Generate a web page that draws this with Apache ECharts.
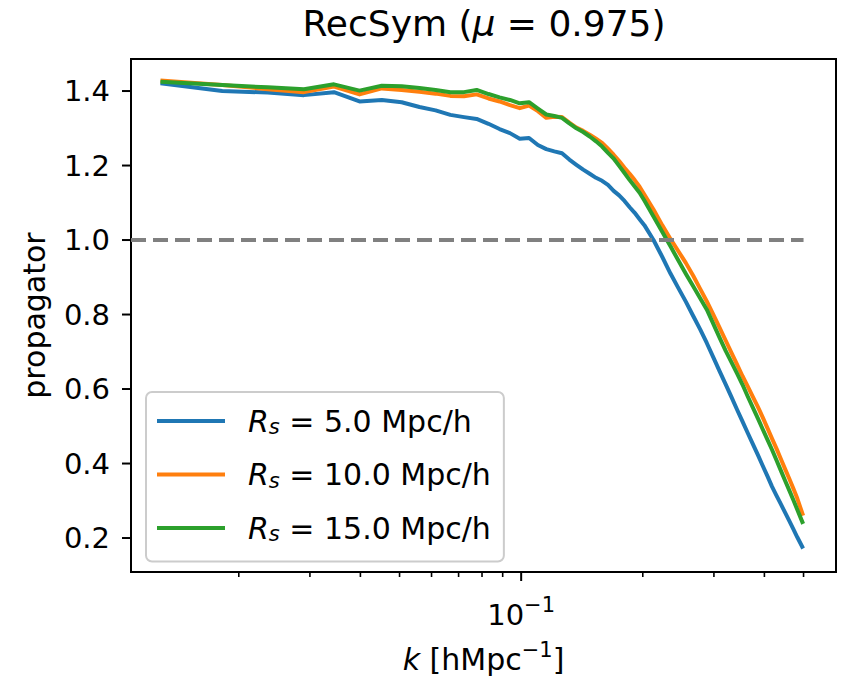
<!DOCTYPE html>
<html>
<head>
<meta charset="utf-8">
<script src="https://cdn.jsdelivr.net/npm/echarts@6/dist/echarts.min.js"></script>
<style>
html,body{margin:0;padding:0;background:#fff;}
#chart{width:843px;height:682px;}
</style>
</head>
<body>
<div id="chart"></div>
<script>
// ---- data ----
const kValues = [0.0128, 0.0182, 0.0236, 0.029, 0.0344, 0.0398, 0.0452, 0.0506, 0.056, 0.0614,
  0.0668, 0.0722, 0.0776, 0.083, 0.0884, 0.0938, 0.0992, 0.1046, 0.11, 0.1154,
  0.1208, 0.1262, 0.1316, 0.137, 0.1424, 0.1478, 0.1532, 0.1586, 0.164, 0.1694,
  0.1748, 0.1802, 0.1856, 0.191, 0.1964, 0.2018, 0.2126, 0.2234, 0.2342, 0.245,
  0.2558, 0.2666, 0.2774, 0.2882, 0.299, 0.3098, 0.3206, 0.3314, 0.3422, 0.353,
  0.3638, 0.3746, 0.3854, 0.3962, 0.407, 0.4178, 0.4286, 0.4394, 0.4502, 0.461,
  0.4718, 0.4826, 0.4988];
const propRs5 = [1.421, 1.400, 1.396, 1.389, 1.397, 1.372, 1.376, 1.370, 1.357, 1.348,
  1.336, 1.330, 1.325, 1.312, 1.298, 1.287, 1.272, 1.274, 1.255, 1.244,
  1.238, 1.233, 1.216, 1.202, 1.189, 1.178, 1.167, 1.159, 1.148, 1.132,
  1.120, 1.105, 1.088, 1.073, 1.056, 1.040, 1.000, 0.955, 0.910, 0.871,
  0.834, 0.796, 0.760, 0.723, 0.685, 0.648, 0.613, 0.579, 0.545, 0.513,
  0.482, 0.452, 0.423, 0.394, 0.366, 0.338, 0.314, 0.291, 0.268, 0.246,
  0.224, 0.202, 0.172];
const propRs10 = [1.428, 1.416, 1.405, 1.397, 1.412, 1.391, 1.407, 1.403, 1.398, 1.393,
  1.387, 1.386, 1.391, 1.380, 1.372, 1.362, 1.354, 1.361, 1.346, 1.328,
  1.331, 1.330, 1.315, 1.302, 1.293, 1.283, 1.272, 1.261, 1.245, 1.229,
  1.212, 1.194, 1.178, 1.161, 1.143, 1.122, 1.082, 1.040, 1.003, 0.970,
  0.938, 0.904, 0.869, 0.835, 0.800, 0.765, 0.731, 0.698, 0.666, 0.635,
  0.607, 0.579, 0.552, 0.524, 0.495, 0.467, 0.440, 0.412, 0.385, 0.359,
  0.333, 0.306, 0.260];
const propRs15 = [1.425, 1.416, 1.410, 1.405, 1.418, 1.401, 1.414, 1.413, 1.408, 1.403,
  1.397, 1.397, 1.403, 1.392, 1.383, 1.376, 1.367, 1.370, 1.353, 1.337,
  1.333, 1.328, 1.313, 1.300, 1.290, 1.278, 1.265, 1.251, 1.234, 1.219,
  1.199, 1.180, 1.161, 1.144, 1.127, 1.106, 1.063, 1.022, 0.983, 0.945,
  0.909, 0.876, 0.844, 0.813, 0.775, 0.738, 0.703, 0.672, 0.642, 0.612,
  0.580, 0.550, 0.521, 0.492, 0.464, 0.437, 0.409, 0.381, 0.354, 0.328,
  0.302, 0.276, 0.238];
const seriesNames = ['Rs = 5.0 Mpc/h', 'Rs = 10.0 Mpc/h', 'Rs = 15.0 Mpc/h'];
const legendRs = ['5.0', '10.0', '15.0'];
const refK = [0.01082, 0.5];
const refV = [1.0, 1.0];
const yTicks = [0.2, 0.4, 0.6, 0.8, 1.0, 1.2, 1.4];
const yTickLabels = ['0.2', '0.4', '0.6', '0.8', '1.0', '1.2', '1.4'];
const xMajorTicks = [0.1];
const xMinorTicks = [0.02, 0.03, 0.04, 0.05, 0.06, 0.07, 0.08, 0.09, 0.2, 0.3, 0.4, 0.5];
const xLimits = [0.01082, 0.6016];
const yLimits = [0.1088, 1.486];

// ---- chart ----
const FONT = 'DejaVu Sans';
const colors = ['#1f77b4', '#ff7f0e', '#2ca02c'];
const pairs = (xs, ys) => xs.map((x, i) => [x, ys[i]]);
const chart = echarts.init(document.getElementById('chart'), null, {renderer: 'svg'});

const tickRich = {
  t: {fontSize: 29, fontFamily: FONT, color: '#000'},
  sup: {fontSize: 21, fontFamily: FONT, color: '#000', padding: [0, 0, 20, 0]}
};
const nameRich = {
  t: {fontSize: 30, fontFamily: FONT, color: '#000'},
  i: {fontSize: 30, fontFamily: FONT, fontStyle: 'italic', color: '#000'},
  sup: {fontSize: 21, fontFamily: FONT, color: '#000', padding: [0, 0, 20, 0]}
};

const option = {
  animation: false,
  backgroundColor: '#fff',
  title: {
    text: '{a|RecSym (}{b|μ}{a| = 0.975)}',
    left: 484, textAlign: 'center', top: 5, padding: 0,
    textStyle: {
      fontWeight: 'normal',
      rich: {
        a: {fontSize: 36, fontFamily: FONT, fontWeight: 'normal', color: '#000'},
        b: {fontSize: 36, fontFamily: FONT, fontWeight: 'normal', fontStyle: 'italic', color: '#000'}
      }
    }
  },
  grid: {left: 131, top: 59, width: 705, height: 513, show: true, borderColor: '#000', borderWidth: 2, backgroundColor: 'transparent'},
  legend: {
    data: seriesNames,
    orient: 'vertical', left: 146, top: 392,
    padding: [14, 13, 17, 11], itemGap: 22, itemWidth: 68, itemHeight: 4,
    icon: 'rect', selectedMode: false,
    backgroundColor: 'rgba(255,255,255,0.8)', borderColor: '#cccccc', borderWidth: 2, borderRadius: 6,
    formatter: name => '{sp|}{i|R}{s|s}{t| = ' + legendRs[seriesNames.indexOf(name)] + ' Mpc/h}',
    textStyle: {
      fontSize: 30, fontFamily: FONT, color: '#000',
      rich: {
        sp: {width: 18},
        i: {fontSize: 30, fontFamily: FONT, fontStyle: 'italic', color: '#000'},
        s: {fontSize: 21, fontFamily: FONT, fontStyle: 'italic', color: '#000', padding: [12, 0, 0, 0]},
        t: {fontSize: 30, fontFamily: FONT, color: '#000'}
      }
    }
  },
  xAxis: {
    type: 'log', logBase: 10, min: xLimits[0], max: xLimits[1],
    axisLine: {show: false}, axisTick: {show: false}, axisLabel: {show: false}, splitLine: {show: false},
    name: '{i|k}{t| [hMpc}{sup|−1}{t|]}', nameLocation: 'middle', nameGap: 67,
    nameTextStyle: {rich: nameRich}
  },
  yAxis: {
    type: 'value', min: yLimits[0], max: yLimits[1],
    axisLine: {show: false}, axisTick: {show: false}, axisLabel: {show: false}, splitLine: {show: false},
    name: 'propagator', nameLocation: 'middle', nameGap: 82, nameRotate: 90,
    nameTextStyle: {fontSize: 30, fontFamily: FONT, color: '#000'}
  },
  series: [
    {name: seriesNames[0], type: 'line', data: pairs(kValues, propRs5), showSymbol: false, symbol: 'none',
     lineStyle: {color: colors[0], width: 4, join: 'round'}, itemStyle: {color: colors[0]}, z: 3},
    {name: seriesNames[1], type: 'line', data: pairs(kValues, propRs10), showSymbol: false, symbol: 'none',
     lineStyle: {color: colors[1], width: 4, join: 'round'}, itemStyle: {color: colors[1]}, z: 3},
    {name: seriesNames[2], type: 'line', data: pairs(kValues, propRs15), showSymbol: false, symbol: 'none',
     lineStyle: {color: colors[2], width: 4, join: 'round'}, itemStyle: {color: colors[2]}, z: 3},
    {name: 'ref', type: 'line', data: pairs(refK, refV), symbol: 'none', silent: true, z: 4,
     lineStyle: {color: '#808080', width: 4, type: [15, 7], cap: 'butt'}},
    {name: 'yticks', type: 'custom', silent: true, clip: false, z: 5,
     data: yTicks.map(v => [xLimits[0], v]),
     renderItem: (params, api) => {
       const p = api.coord([api.value(0), api.value(1)]);
       const x0 = params.coordSys.x;
       return {type: 'group', children: [
         {type: 'line', shape: {x1: x0 - 9, y1: p[1], x2: x0, y2: p[1]}, style: {stroke: '#000', lineWidth: 2}},
         {type: 'text', x: x0 - 21, y: p[1], style: {text: yTickLabels[params.dataIndex], fontSize: 29, fontFamily: FONT, fill: '#000', align: 'right', verticalAlign: 'middle'}}
       ]};
     }},
    {name: 'xmajor', type: 'custom', silent: true, clip: false, z: 5,
     data: xMajorTicks.map(v => [v, yLimits[0]]),
     renderItem: (params, api) => {
       const p = api.coord([api.value(0), api.value(1)]);
       const yb = params.coordSys.y + params.coordSys.height;
       return {type: 'group', children: [
         {type: 'line', shape: {x1: p[0], y1: yb, x2: p[0], y2: yb + 9}, style: {stroke: '#000', lineWidth: 2}},
         {type: 'text', x: p[0], y: yb + 22, style: {text: '{t|10}{sup|−1}', rich: tickRich, align: 'center', verticalAlign: 'top'}}
       ]};
     }},
    {name: 'xminor', type: 'custom', silent: true, clip: false, z: 5,
     data: xMinorTicks.map(v => [v, yLimits[0]]),
     renderItem: (params, api) => {
       const p = api.coord([api.value(0), api.value(1)]);
       const yb = params.coordSys.y + params.coordSys.height;
       return {type: 'line', shape: {x1: p[0], y1: yb, x2: p[0], y2: yb + 5}, style: {stroke: '#000', lineWidth: 1.6}};
     }}
  ]
};
chart.setOption(option);
</script>
</body>
</html>
